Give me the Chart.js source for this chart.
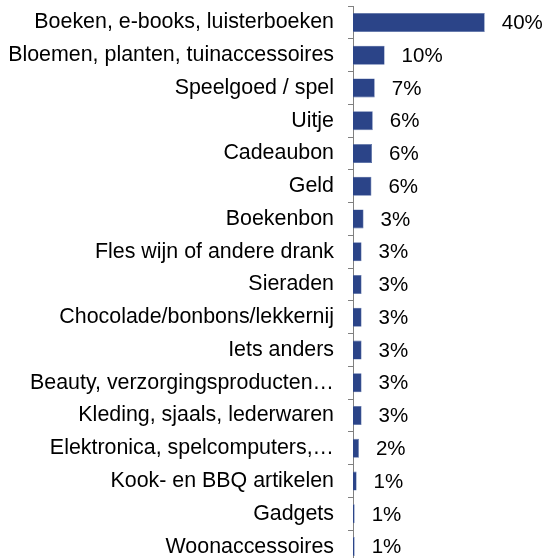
<!DOCTYPE html>
<html>
<head>
<meta charset="utf-8">
<script src="https://cdn.jsdelivr.net/npm/chart.js@4/dist/chart.umd.min.js"></script>
<style>
  html, body { margin: 0; padding: 0; background: #fff; overflow: hidden; }
  canvas { display: block; }
</style>
</head>
<body>
<canvas id="myChart" width="546" height="563"></canvas>
<script>
// cadeaus: categorieën en percentages
const categories = [
  'Boeken, e-books, luisterboeken',
  'Bloemen, planten, tuinaccessoires',
  'Speelgoed / spel',
  'Uitje',
  'Cadeaubon',
  'Geld',
  'Boekenbon',
  'Fles wijn of andere drank',
  'Sieraden',
  'Chocolade/bonbons/lekkernij',
  'Iets anders',
  'Beauty, verzorgingsproducten…',
  'Kleding, sjaals, lederwaren',
  'Elektronica, spelcomputers,…',
  'Kook- en BBQ artikelen',
  'Gadgets',
  'Woonaccessoires'
];
const percentages = [40, 9.6, 6.6, 6.0, 5.8, 5.6, 3.2, 2.6, 2.6, 2.6, 2.6, 2.6, 2.6, 1.8, 1.1, 0.5, 0.5];

const FONT = 'Liberation Sans, Arial, sans-serif';

// percentage naast elke balk
const valueLabels = {
  id: 'valueLabels',
  afterDatasetsDraw(chart) {
    const ctx = chart.ctx;
    const meta = chart.getDatasetMeta(0);
    ctx.save();
    ctx.font = '20.5px ' + FONT;
    ctx.fillStyle = '#000';
    ctx.textAlign = 'left';
    ctx.textBaseline = 'middle';
    meta.data.forEach((bar, i) => {
      ctx.fillText(Math.round(percentages[i]) + '%', bar.x + 17, bar.y + 1);
    });
    ctx.restore();
  }
};

const ctx = document.getElementById('myChart');

new Chart(ctx, {
  type: 'bar',
  data: {
    labels: categories,
    datasets: [{
      data: percentages,
      backgroundColor: '#2B4488',
      borderColor: '#5068a2',
      borderWidth: 0.6,
      categoryPercentage: 0.58,
      barPercentage: 1
    }]
  },
  options: {
    indexAxis: 'y',
    responsive: false,
    animation: false,
    layout: { padding: { top: 6, right: 2, bottom: 0, left: 0 } },
    plugins: {
      legend: { display: false },
      tooltip: { enabled: false }
    },
    scales: {
      x: {
        display: false,
        min: 0,
        max: 58
      },
      y: {
        afterFit(scale) {
          scale.width = 353;
          scale.paddingTop = 0;
          scale.paddingBottom = 0;
        },
        grid: {
          drawOnChartArea: false,
          tickLength: 5,
          color: '#808080',
          offset: true
        },
        border: { color: '#808080', width: 1 },
        ticks: {
          padding: 14,
          color: '#000',
          autoSkip: false,
          font: { family: FONT, size: 21.4 }
        }
      }
    }
  },
  plugins: [valueLabels]
});
</script>
</body>
</html>
